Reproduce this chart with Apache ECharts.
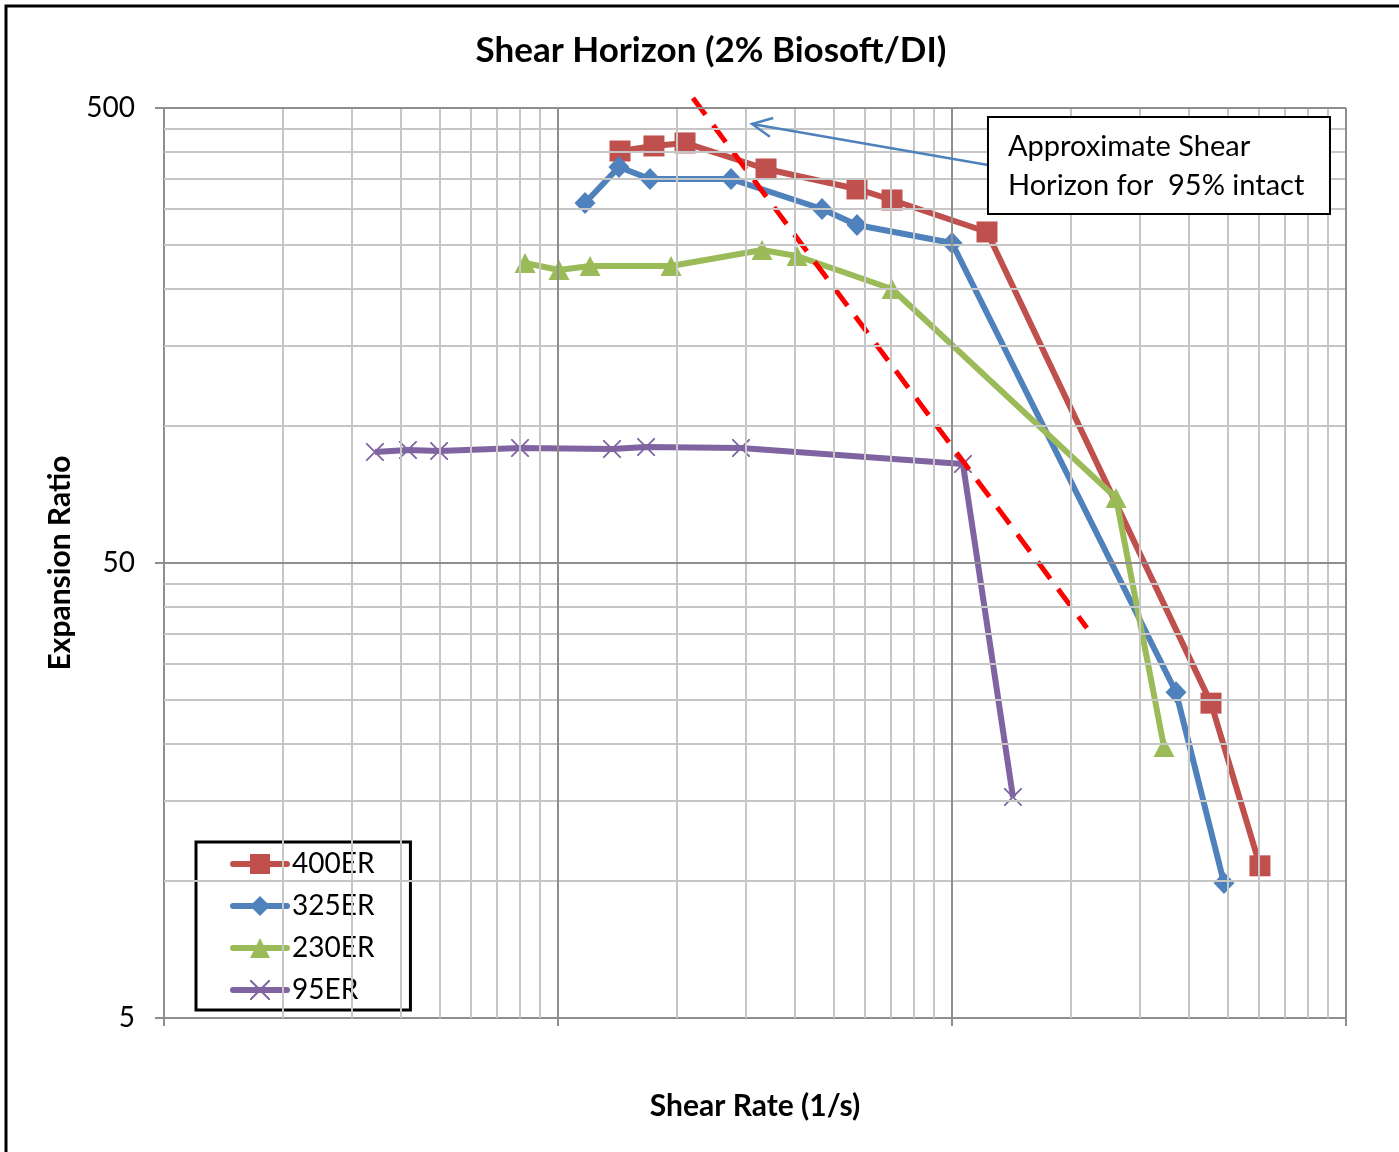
<!DOCTYPE html>
<html>
<head>
<meta charset="utf-8">
<title>Shear Horizon (2% Biosoft/DI)</title>
<script src="https://cdn.jsdelivr.net/npm/echarts@6/dist/echarts.min.js"></script>
<style>
  html, body { margin: 0; padding: 0; background: #ffffff; }
  #chart { width: 1399px; height: 1152px; }
</style>
</head>
<body>
<div id="chart"></div>
<script>
// Shear rate (1/s) and expansion ratio for each foam
const rate400 = [143.7, 175.2, 210.1, 337.3, 574.0, 704.4, 1227, 4543, 6048];
const er400   = [402.2, 412.6, 419.0, 367.2, 331.9, 313.9, 267.0, 24.6, 10.8];

const rate325 = [117.1, 142.8, 171.2, 274.9, 467.9, 574.0, 1000, 3703, 4902];
const er325   = [309.2, 370.9, 349.1, 349.1, 299.9, 276.6, 252.5, 26.0, 9.9];

const rate230 = [82.5, 100.6, 120.6, 193.6, 329.5, 404.3, 704.4, 2608, 3452];
const er230   = [228.2, 220.3, 224.7, 224.7, 243.8, 236.4, 200.1, 69.5, 19.7];

const rate95  = [34.3, 41.6, 49.9, 80.1, 137.1, 167.3, 291.4, 1066, 1428];
const er95    = [87.7, 88.6, 88.1, 89.5, 89.0, 89.9, 89.5, 82.5, 15.3];

// Approximate shear horizon (95% intact), straight segment on log-log axes
const horizonRate = [220, 2200];
const horizonER   = [526, 36];

// Callout arrow: from the text box towards the horizon line
const arrowRate = [1234, 310.8];
const arrowER   = [374.7, 461.2];

// Axis ticks and gridlines
const xTicks = [10, 100, 1000, 10000];
const yTicks = [5, 50, 500];
const xMinorGrid = [20, 30, 40, 50, 60, 70, 80, 90,
                    200, 300, 400, 500, 600, 700, 800, 900,
                    2000, 3000, 4000, 5000, 6000, 7000, 8000, 9000];
const yMinorGrid = [10, 15, 20, 25, 30, 35, 40, 45,
                    100, 150, 200, 250, 300, 350, 400, 450];

const seriesNames = ['400ER', '325ER', '230ER', '95ER'];
const colors = ['#C0504D', '#4F81BD', '#9BBB59', '#8064A2'];

const FONT = 'Lato, "Noto Sans", sans-serif';
const crossSymbol = 'path://M0,0 L1.4,0 L10,8.6 L18.6,0 L20,0 L20,1.4 L11.4,10 L20,18.6 L20,20 L18.6,20 L10,11.4 L1.4,20 L0,20 L0,18.6 L8.6,10 L0,1.4 Z';

function pairs(xs, ys) { return xs.map((x, i) => [x, ys[i]]); }

function dataSeries(name, xs, ys, color, symbol, size) {
  return {
    name: name,
    type: 'line',
    data: pairs(xs, ys),
    symbol: symbol,
    symbolSize: size,
    showAllSymbol: true,
    z: 3,
    lineStyle: { color: color, width: 6 },
    itemStyle: { color: color, borderWidth: 0 },
    emphasis: { disabled: true },
    animation: false
  };
}

const minorStyle = { color: '#c6c6c6', width: 2, type: 'solid' };
const majorStyle = { color: '#8e8e8e', width: 2, type: 'solid' };
const gridLines = []
  .concat(xMinorGrid.map(v => ({ xAxis: v, lineStyle: minorStyle })))
  .concat(yMinorGrid.map(v => ({ yAxis: v, lineStyle: minorStyle })))
  .concat(xTicks.slice(1).map(v => ({ xAxis: v, lineStyle: majorStyle })))
  .concat(yTicks.slice(1).map(v => ({ yAxis: v, lineStyle: majorStyle })));

const chart = echarts.init(document.getElementById('chart'), null, { renderer: 'canvas' });

const option = {
  animation: false,
  backgroundColor: '#ffffff',
  textStyle: { fontFamily: FONT },
  grid: { left: 164, right: 53, top: 108, bottom: 134, containLabel: false, outerBoundsMode: 'none' },
  xAxis: {
    type: 'log', logBase: 10, min: 10, max: 10000,
    name: 'Shear Rate (1/s)', nameLocation: 'middle', nameGap: 73,
    nameTextStyle: { fontFamily: FONT, fontWeight: 'bold', fontSize: 30, color: '#000' },
    axisLine: { show: true, lineStyle: { color: '#8e8e8e', width: 2 } },
    axisTick: { show: true, length: 8, customValues: xTicks, lineStyle: { color: '#8e8e8e', width: 2 } },
    axisLabel: { show: false },
    splitLine: { show: false },
    minorTick: { show: false }, minorSplitLine: { show: false }
  },
  yAxis: {
    type: 'log', logBase: 10, min: 5, max: 500,
    name: 'Expansion Ratio', nameLocation: 'middle', nameGap: 87, nameRotate: 90,
    nameTextStyle: { fontFamily: FONT, fontWeight: 'bold', fontSize: 30, color: '#000' },
    axisLine: { show: true, lineStyle: { color: '#8e8e8e', width: 2 } },
    axisTick: { show: true, length: 9, customValues: yTicks, lineStyle: { color: '#8e8e8e', width: 2 } },
    axisLabel: { show: true, customValues: yTicks, margin: 29, fontFamily: FONT, fontSize: 28, color: '#000',
                 formatter: v => String(Math.round(v)) },
    splitLine: { show: false },
    minorTick: { show: false }, minorSplitLine: { show: false }
  },
  legend: {
    data: seriesNames,
    orient: 'vertical',
    left: 196, top: 842,
    padding: [8, 36, 6, 34],
    itemGap: 14,
    itemWidth: 54, itemHeight: 25,
    backgroundColor: '#ffffff',
    borderColor: '#000000', borderWidth: 3, borderRadius: 0,
    lineStyle: { width: 6, cap: 'round' },
    textStyle: { fontFamily: FONT, fontSize: 28, color: '#000', lineHeight: 28, padding: [0, 0, 0, 0] },
    selectedMode: false
  },
  series: [
    {
      name: 'gridlines', type: 'line', data: [], z: 1, silent: true,
      markLine: { silent: true, symbol: 'none', animation: false, label: { show: false }, data: gridLines }
    },
    dataSeries('400ER', rate400, er400, colors[0], 'rect', 21),
    dataSeries('325ER', rate325, er325, colors[1], 'diamond', [21, 22]),
    dataSeries('230ER', rate230, er230, colors[2], 'triangle', [21, 20]),
    dataSeries('95ER', rate95, er95, colors[3], crossSymbol, 18),
    {
      name: 'horizon', type: 'line', data: pairs(horizonRate, horizonER),
      symbol: 'none', clip: false, z: 4, silent: true,
      lineStyle: { color: '#FF0000', width: 5, type: [21, 13] }
    }
  ]
};

chart.setOption(option);

// Outer frame, title, callout box and arrow (arrow placed from data coordinates)
const p0 = chart.convertToPixel({ gridIndex: 0 }, [arrowRate[0], arrowER[0]]);
const p1 = chart.convertToPixel({ gridIndex: 0 }, [arrowRate[1], arrowER[1]]);
const ang = Math.atan2(p0[1] - p1[1], p0[0] - p1[0]);
const head = 22, spread = 0.45;
const h1 = [p1[0] + head * Math.cos(ang + spread), p1[1] + head * Math.sin(ang + spread)];
const h2 = [p1[0] + head * Math.cos(ang - spread), p1[1] + head * Math.sin(ang - spread)];

chart.setOption({
  graphic: [
    { type: 'rect', shape: { x: 6, y: 6, width: 1420, height: 1180 }, style: { fill: 'none', stroke: '#000', lineWidth: 3 }, silent: true, z: 100 },
    { type: 'text', x: 711, y: 51, style: { text: 'Shear Horizon (2% Biosoft/DI)', font: 'bold 35px ' + FONT, fill: '#000', align: 'center', verticalAlign: 'middle' }, z: 100 },
    { type: 'line', shape: { x1: p0[0], y1: p0[1], x2: p1[0], y2: p1[1] }, style: { stroke: '#4F81BD', lineWidth: 2.5 }, z: 50 },
    { type: 'polyline', shape: { points: [h1, p1, h2] }, style: { stroke: '#4F81BD', lineWidth: 2.5, fill: null }, z: 50 },
    { type: 'rect', shape: { x: p0[0], y: 117, width: 342, height: 97 }, style: { fill: '#ffffff', stroke: '#000', lineWidth: 2 }, z: 60 },
    { type: 'text', x: p0[0] + 20, y: 147, style: { text: 'Approximate Shear', font: '29px ' + FONT, fill: '#000', align: 'left', verticalAlign: 'middle' }, z: 61 },
    { type: 'text', x: p0[0] + 20, y: 186, style: { text: 'Horizon for  95% intact', font: '29px ' + FONT, fill: '#000', align: 'left', verticalAlign: 'middle' }, z: 61 }
  ]
});
</script>
</body>
</html>
